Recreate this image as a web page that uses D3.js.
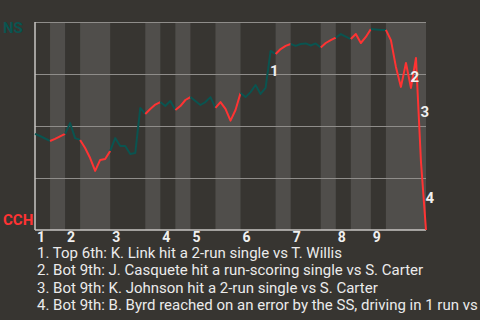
<!DOCTYPE html>
<html>
<head>
<meta charset="utf-8">
<script src="https://cdn.jsdelivr.net/npm/d3@7"></script>
<style>
  body { margin: 0; background: #373531; }
  svg { display: block; font-family: Roboto, "Noto Sans", sans-serif; }
</style>
</head>
<body>
<div id="chart"></div>
<script>
// NS win probability (%) after each play, play 0 = first pitch
const winProb = [
  46.2, 45.2, 44.0, 42.8, 43.8, 45.0, 46.2, 51.4, 44.2, 43.3,
  39.4, 34.6, 28.4, 33.7, 34.1, 38.0, 44.2, 40.4, 40.4, 36.5,
  37.0, 58.7, 55.8, 58.2, 60.3, 61.5, 59.6, 62.0, 57.7, 59.6,
  62.5, 63.9, 62.0, 60.1, 61.5, 63.9, 58.7, 61.5, 58.2, 52.6,
  57.7, 65.9, 63.9, 66.3, 69.7, 65.4, 68.3, 86.1, 84.6, 87.0,
  88.5, 89.4, 88.5, 89.4, 89.7, 88.7, 89.7, 87.7, 89.9, 91.3,
  92.5, 94.2, 93.0, 91.8, 94.2, 89.9, 92.8, 96.6, 96.4, 96.2,
  96.2, 91.3, 78.4, 68.8, 80.3, 68.3, 82.7, 32.7, 0
];

// play index at which each half inning starts (top 1, bot 1, top 2, ...)
const halfStarts = [0, 3, 6, 9, 15, 22, 25, 28, 31, 36, 41, 48, 51, 57, 60, 63, 67, 70, 78];
const innings = ['1', '2', '3', '4', '5', '6', '7', '8', '9'];

const eventPlays = [47, 75, 77, 78];
const eventTexts = [
  '1. Top 6th: K. Link hit a 2-run single vs T. Willis',
  '2. Bot 9th: J. Casquete hit a run-scoring single vs S. Carter',
  '3. Bot 9th: K. Johnson hit a 2-run single vs S. Carter',
  '4. Bot 9th: B. Byrd reached on an error by the SS, driving in 1 run vs S. Carter'
];

const teams = ['NS', 'CCH'];

const width = 480;
const height = 320;
const margin = { top: 22, right: 54, bottom: 90, left: 35 };
const teal = '#0a5450';
const red = '#ff3333';

const x = d3.scaleLinear()
    .domain([0, winProb.length - 1])
    .range([margin.left, width - margin.right]);

const y = d3.scaleLinear()
    .domain([0, 100])
    .range([height - margin.bottom, margin.top]);

const svg = d3.select('#chart').append('svg')
    .attr('width', width)
    .attr('height', height);

// half inning bands, bottom halves lighter
const halves = d3.range(halfStarts.length - 1);
svg.append('g').selectAll('rect')
    .data(halves.filter(i => i % 2 === 1))
    .enter()
    .append('rect')
    .attr('x', i => x(halfStarts[i]))
    .attr('width', i => x(halfStarts[i + 1]) - x(halfStarts[i]))
    .attr('y', y(100))
    .attr('height', y(0) - y(100))
    .attr('fill', '#504e4b');

// gridlines
const grid = svg.append('g')
    .attr('transform', 'translate(' + margin.left + ',0)')
    .call(d3.axisRight(y)
        .tickValues([25, 50, 75, 100])
        .tickSize(width - margin.left - margin.right)
        .tickFormat(''));
grid.select('.domain').remove();
grid.selectAll('line').attr('stroke', '#8f8d8a').attr('stroke-width', 1.2);

// axes lines
svg.append('line')
    .attr('x1', margin.left).attr('x2', margin.left)
    .attr('y1', y(100)).attr('y2', y(0))
    .attr('stroke', '#c8c6c3').attr('stroke-width', 1.5);
svg.append('line')
    .attr('x1', margin.left).attr('x2', width - margin.right)
    .attr('y1', y(0)).attr('y2', y(0))
    .attr('stroke', '#c8c6c3').attr('stroke-width', 1.5);

// win probability line, one path per half inning
const line = d3.line()
    .x(d => x(d))
    .y(d => y(winProb[d]));

svg.append('g').selectAll('path')
    .data(halves)
    .enter()
    .append('path')
    .attr('d', i => line(d3.range(halfStarts[i], halfStarts[i + 1] + 1)))
    .attr('fill', 'none')
    .attr('stroke', i => i % 2 === 0 ? teal : red)
    .attr('stroke-width', 2)
    .attr('stroke-linejoin', 'round');

// event markers at the middle of each play's segment
svg.append('g').selectAll('text')
    .data(eventPlays)
    .enter()
    .append('text')
    .attr('x', p => (x(p - 1) + x(p)) / 2 + 2)
    .attr('y', p => (y(winProb[p - 1]) + y(winProb[p])) / 2 + 2)
    .attr('dominant-baseline', 'central')
    .attr('fill', '#f0f0f0')
    .attr('font-weight', 'bold')
    .attr('font-size', 15)
    .text((p, i) => i + 1);

// inning labels
svg.append('g').selectAll('text')
    .data(innings)
    .enter()
    .append('text')
    .attr('x', (d, i) => x(halfStarts[i * 2]) + 2)
    .attr('y', 242)
    .attr('fill', '#f0f0f0')
    .attr('font-weight', 'bold')
    .attr('font-size', 14)
    .text(d => d);

// team labels
svg.append('text')
    .attr('x', 3).attr('y', 33)
    .attr('fill', teal)
    .attr('font-weight', 'bold')
    .attr('font-size', 15)
    .text(teams[0]);
svg.append('text')
    .attr('x', 3).attr('y', 225)
    .attr('fill', red)
    .attr('font-weight', 'bold')
    .attr('font-size', 15)
    .text(teams[1]);

// event descriptions (the last one runs past the right edge, as in the original)
svg.append('g').selectAll('text')
    .data(eventTexts)
    .enter()
    .append('text')
    .attr('x', 37)
    .attr('y', (d, i) => 257.5 + i * 17.6)
    .attr('fill', '#ebebeb')
    .attr('font-size', 15)
    .text(d => d);
</script>
</body>
</html>
